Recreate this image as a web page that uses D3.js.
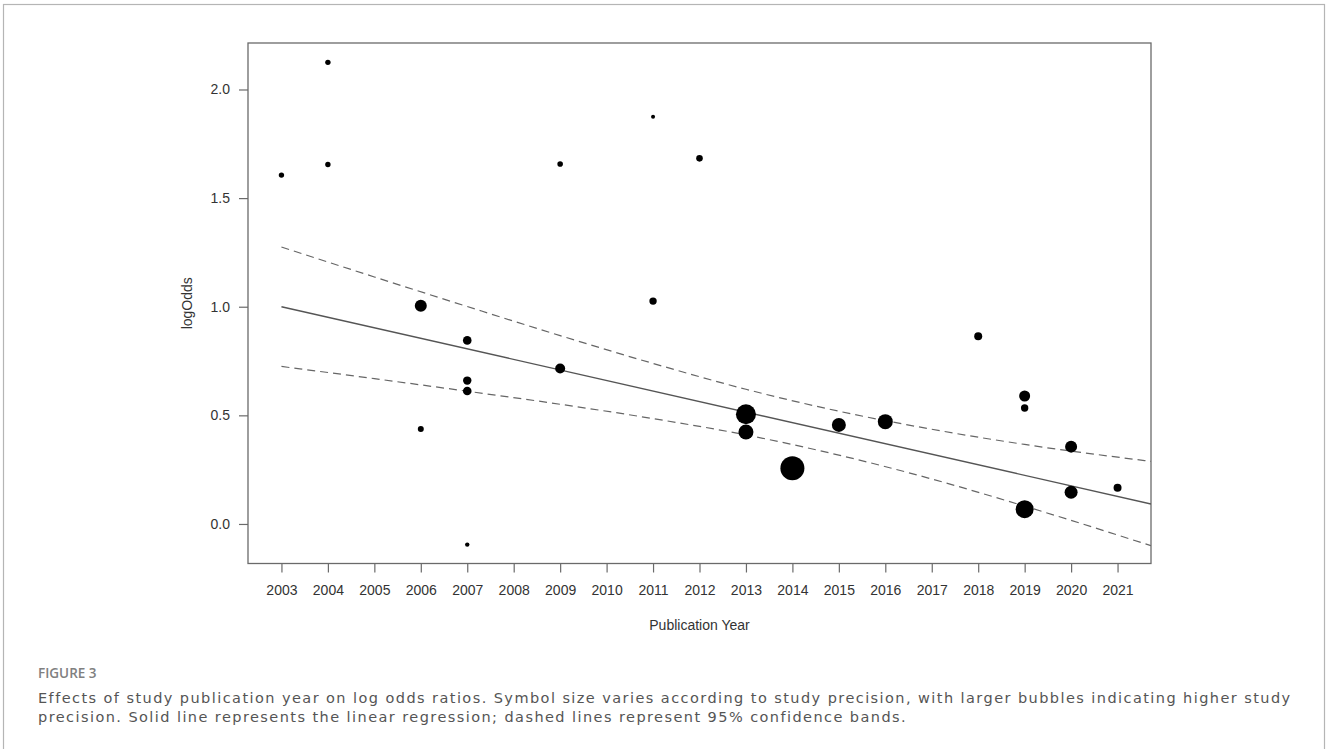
<!DOCTYPE html>
<html>
<head>
<meta charset="utf-8">
<script src="https://cdn.jsdelivr.net/npm/d3@7"></script>
<style>
  html, body { margin: 0; padding: 0; background: #fff; }
  svg { display: block; }
</style>
</head>
<body>
<svg id="fig" width="1328" height="749"></svg>
<script>
// Study-level effects: publication year, log odds ratio and precision (bubble radius units)
const studyYears = [2003, 2004, 2004, 2006, 2006, 2007, 2007, 2007, 2007, 2009, 2009, 2011, 2011, 2012,
                    2013, 2013, 2014, 2015, 2016, 2018, 2019, 2019, 2019, 2020, 2020, 2021];
const studyLogOdds = [1.606, 2.125, 1.655, 1.005, 0.437, 0.845, 0.660, 0.612, -0.095, 1.657, 0.716, 1.874, 1.026, 1.683,
                      0.505, 0.423, 0.256, 0.456, 0.471, 0.864, 0.589, 0.534, 0.068, 0.356, 0.146, 0.167];
const studyPrecision = [2.7, 2.7, 2.7, 6.0, 3.0, 4.3, 4.2, 4.3, 2.2, 2.8, 5.0, 2.0, 3.7, 3.3,
                        10.0, 7.5, 12.0, 7.0, 7.5, 4.0, 5.5, 3.7, 9.0, 6.0, 6.5, 4.0];

// Meta-regression fit and 95% confidence band
const fitYears = [2003, 2021.72];
const fitValues = [1.000, 0.092];
const bandYears = [2003, 2005, 2007, 2009, 2011, 2013, 2015, 2017, 2019, 2021.72];
const bandUpper = [1.275, 1.137, 1.001, 0.867, 0.739, 0.620, 0.519, 0.436, 0.366, 0.288];
const bandLower = [0.725, 0.669, 0.611, 0.551, 0.485, 0.410, 0.317, 0.207, 0.082, -0.100];

// Axis ticks
const xTickYears = d3.range(2003, 2022);
const yTickValues = [0.0, 0.5, 1.0, 1.5, 2.0];

const captionLabel = "FIGURE 3";
const captionLines = [
  "Effects of study publication year on log odds ratios. Symbol size varies according to study precision, with larger bubbles indicating higher study",
  "precision. Solid line represents the linear regression; dashed lines represent 95% confidence bands."
];

const svg = d3.select("#fig");
const plot = { left: 248, right: 1151, top: 43, bottom: 563.5 };

const x = d3.scaleLinear().domain([2002.28, 2021.72]).range([plot.left, plot.right]);
const y = d3.scaleLinear().domain([-0.182, 2.214]).range([plot.bottom, plot.top]);
const r = d3.scaleLinear().domain([0, 12]).range([0, 12]);

// outer figure frame
svg.append("rect")
  .attr("x", 3.5).attr("y", 4.5).attr("width", 1321).attr("height", 780)
  .attr("fill", "none").attr("stroke", "#b5b5b5").attr("stroke-width", 1.2);

const axisColor = "#6a6a6a";
const textColor = "#333";
const fontFamily = "'Liberation Sans', Arial, sans-serif";

// x axis
const xAxis = svg.append("g")
  .attr("transform", `translate(0,${plot.bottom})`)
  .call(d3.axisBottom(x).tickValues(xTickYears).tickFormat(d3.format("d")).tickSize(9).tickPadding(13));
xAxis.select(".domain").remove();
xAxis.selectAll(".tick line").attr("stroke", axisColor).attr("stroke-width", 1.2);
xAxis.selectAll(".tick text").attr("fill", textColor).style("font-family", fontFamily).style("font-size", "14px");

// y axis
const yAxis = svg.append("g")
  .attr("transform", `translate(${plot.left},0)`)
  .call(d3.axisLeft(y).tickValues(yTickValues).tickFormat(d3.format(".1f")).tickSize(9).tickPadding(9));
yAxis.select(".domain").remove();
yAxis.selectAll(".tick line").attr("stroke", axisColor).attr("stroke-width", 1.2);
yAxis.selectAll(".tick text").attr("fill", textColor).style("font-family", fontFamily).style("font-size", "14px");

// plot box
svg.append("rect")
  .attr("x", plot.left).attr("y", plot.top)
  .attr("width", plot.right - plot.left).attr("height", plot.bottom - plot.top)
  .attr("fill", "none").attr("stroke", axisColor).attr("stroke-width", 1.3);

svg.append("clipPath").attr("id", "plotClip")
  .append("rect").attr("x", plot.left).attr("y", plot.top)
  .attr("width", plot.right - plot.left).attr("height", plot.bottom - plot.top);

const lineGen = d3.line().x(d => x(d[0])).y(d => y(d[1]));
const curveGen = d3.line().x(d => x(d[0])).y(d => y(d[1])).curve(d3.curveMonotoneX);

const layer = svg.append("g").attr("clip-path", "url(#plotClip)");

// confidence band
[bandUpper, bandLower].forEach(vals => {
  layer.append("path")
    .datum(bandYears.map((yr, i) => [yr, vals[i]]))
    .attr("d", curveGen)
    .attr("fill", "none").attr("stroke", "#666").attr("stroke-width", 1.2)
    .attr("stroke-dasharray", "8,5");
});

// regression line
layer.append("path")
  .datum(fitYears.map((yr, i) => [yr, fitValues[i]]))
  .attr("d", lineGen)
  .attr("fill", "none").attr("stroke", "#555").attr("stroke-width", 1.4);

// study bubbles
layer.selectAll("circle.study")
  .data(studyYears.map((yr, i) => ({ year: yr, lo: studyLogOdds[i], p: studyPrecision[i] })))
  .join("circle")
  .attr("class", "study")
  .attr("cx", d => x(d.year))
  .attr("cy", d => y(d.lo))
  .attr("r", d => r(d.p))
  .attr("fill", "#000");

// axis titles
svg.append("text")
  .attr("transform", `translate(192,${(plot.top + plot.bottom) / 2}) rotate(-90)`)
  .attr("text-anchor", "middle")
  .attr("fill", textColor)
  .style("font-family", fontFamily).style("font-size", "14px")
  .text("logOdds");

svg.append("text")
  .attr("x", (plot.left + plot.right) / 2).attr("y", 630)
  .attr("text-anchor", "middle")
  .attr("fill", textColor)
  .style("font-family", fontFamily).style("font-size", "14px")
  .text("Publication Year");

// caption
svg.append("text")
  .attr("x", 38).attr("y", 678)
  .attr("fill", "#808080")
  .style("font-family", "'Open Sans', sans-serif").style("font-size", "13.5px").style("font-weight", 600)
  .text(captionLabel);

const capTexts = captionLines.map((line, i) => svg.append("text")
  .attr("x", 38).attr("y", 702.5 + i * 19.5)
  .attr("fill", "#555")
  .style("font-family", "'DejaVu Sans', sans-serif").style("font-size", "14.5px")
  .text(line));

// fit the first caption line to its column width
const firstWidth = capTexts[0].node().getComputedTextLength();
const targetWidth = 1290 - 38;
const spacing = (targetWidth - firstWidth) / (captionLines[0].length - 1);
capTexts.forEach(t => t.style("letter-spacing", `${spacing.toFixed(3)}px`));
</script>
</body>
</html>
